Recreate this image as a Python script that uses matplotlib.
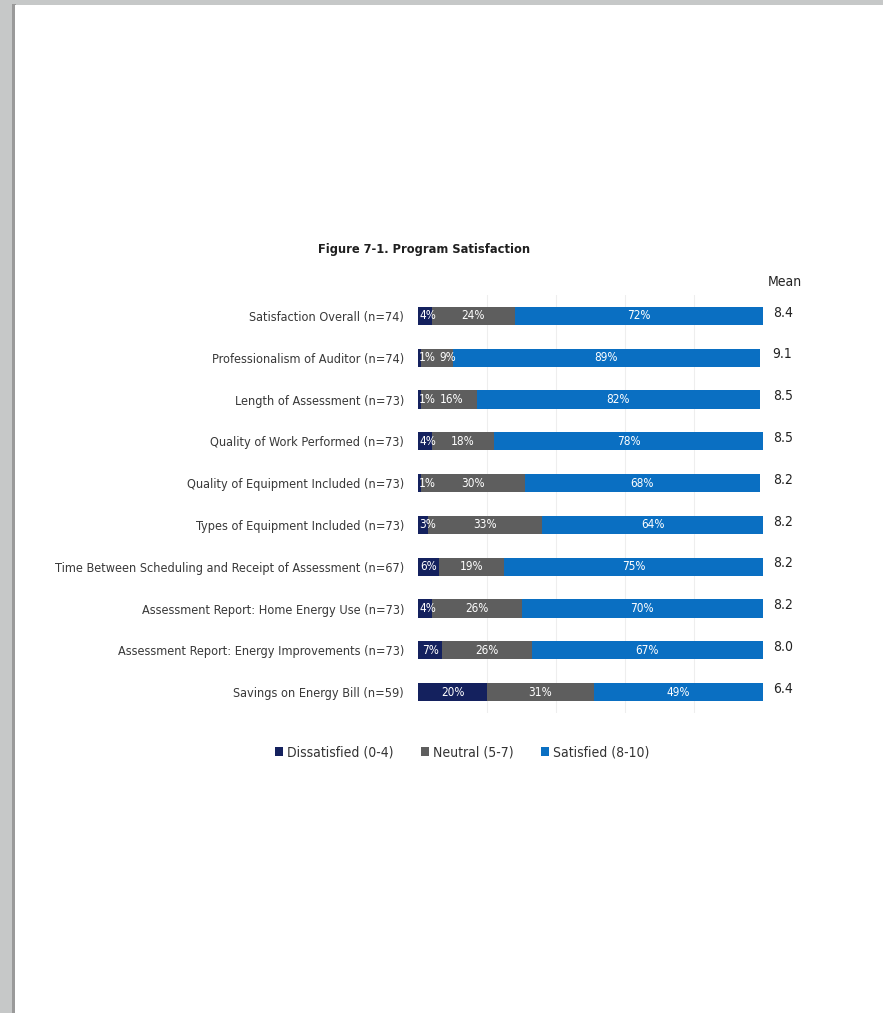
import numpy as np
import matplotlib.pyplot as plt
from matplotlib.patches import Rectangle, Patch

plt.rcParams['font.family'] = ['DejaVu Sans']
plt.rcParams['font.stretch'] = 'condensed'

categorias = ["Satisfaction Overall (n=74)",
              "Professionalism of Auditor (n=74)",
              "Length of Assessment (n=73)",
              "Quality of Work Performed (n=73)",
              "Quality of Equipment Included (n=73)",
              "Types of Equipment Included (n=73)",
              "Time Between Scheduling and Receipt of Assessment (n=67)",
              "Assessment Report: Home Energy Use (n=73)",
              "Assessment Report: Energy Improvements (n=73)",
              "Savings on Energy Bill (n=59)"]
insatisfechos = [4, 1, 1, 4, 1, 3, 6, 4, 7, 20]
neutrales = [24, 9, 16, 18, 30, 33, 19, 26, 26, 31]
satisfechos = [72, 89, 82, 78, 68, 64, 75, 70, 67, 49]
medias = [8.4, 9.1, 8.5, 8.5, 8.2, 8.2, 8.2, 8.2, 8.0, 6.4]
leyenda = ["Dissatisfied (0-4)", "Neutral (5-7)", "Satisfied (8-10)"]

colores = ["#14215e", "#5e5e5e", "#0a6fc2"]
W, H = 883, 1013

fig = plt.figure(figsize=(W / 100, H / 100), dpi=100)
fig.patch.set_facecolor("#c6c8c8")
# hoja blanca
fig.patches.append(Rectangle((12 / W, 0), 4 / W, 1 - 4 / H, transform=fig.transFigure,
                             facecolor="#9a9a9a", edgecolor="none", zorder=-2))
fig.patches.append(Rectangle((15 / W, 0), 1 - 15 / W, 1 - 5 / H, transform=fig.transFigure,
                             facecolor="white", edgecolor="none", zorder=-1))

ax = fig.add_axes([418 / W, 1 - 713 / H, 345 / W, 418 / H])
ax.set_facecolor("none")

y = np.arange(len(categorias))
izq = np.zeros(len(categorias))
fin_etiqueta = np.full(len(categorias), -10.0)  # donde termina la etiqueta anterior
for serie, color in zip([insatisfechos, neutrales, satisfechos], colores):
    valores = np.array(serie)
    ax.barh(y, valores, left=izq, height=0.44, color=color, zorder=2)
    for i, v in enumerate(valores):
        if v < 5:
            ax.text(izq[i] + 0.3, y[i], f"{v}%", ha="left", va="center",
                    color="white", fontsize=8.5, zorder=3)
            fin_etiqueta[i] = izq[i] + 4.3
        else:
            mitad = 1.8 if v < 10 else 2.8
            xc = max(izq[i] + v / 2, fin_etiqueta[i] + 2.5 + mitad)
            ax.text(xc, y[i], f"{v}%", ha="center", va="center",
                    color="white", fontsize=8.5, zorder=3)
            fin_etiqueta[i] = xc + mitad
    izq = izq + valores

for i, m in enumerate(medias):
    ax.text(102.8, y[i] - 0.08, f"{m:.1f}", ha="left", va="center",
            fontsize=10, color="#222222", clip_on=False)
ax.text(101.5, -0.82, "Mean", ha="left", va="center", fontsize=10,
        color="#222222", clip_on=False)

ax.set_xlim(0, 100)
ax.set_ylim(9.5, -0.5)
ax.set_yticks(y)
ax.set_yticklabels(categorias, fontsize=9.1, color="#383838")
ax.tick_params(axis="y", length=0, pad=10)
ax.set_xticks([20, 40, 60, 80])
ax.tick_params(axis="x", length=0, labelbottom=False)
ax.grid(axis="x", color="#eeeeee", linewidth=0.8, zorder=0)
for s in ax.spines.values():
    s.set_visible(False)

fig.text(318 / W, 1 - 249 / H, "Figure 7-1. Program Satisfaction", ha="left",
         va="center", fontsize=9.2, fontweight="bold", color="#1f1f1f")

handles = [Patch(facecolor=c, edgecolor="none") for c in colores]
fig.legend(handles, leyenda, loc="center", bbox_to_anchor=(462 / W, 1 - 752 / H),
           ncol=3, frameon=False, fontsize=10, handlelength=0.6, handleheight=0.6,
           handletextpad=0.25, columnspacing=2.0, labelcolor="#333333")

fig.savefig("out.png", dpi=100, facecolor=fig.get_facecolor())
